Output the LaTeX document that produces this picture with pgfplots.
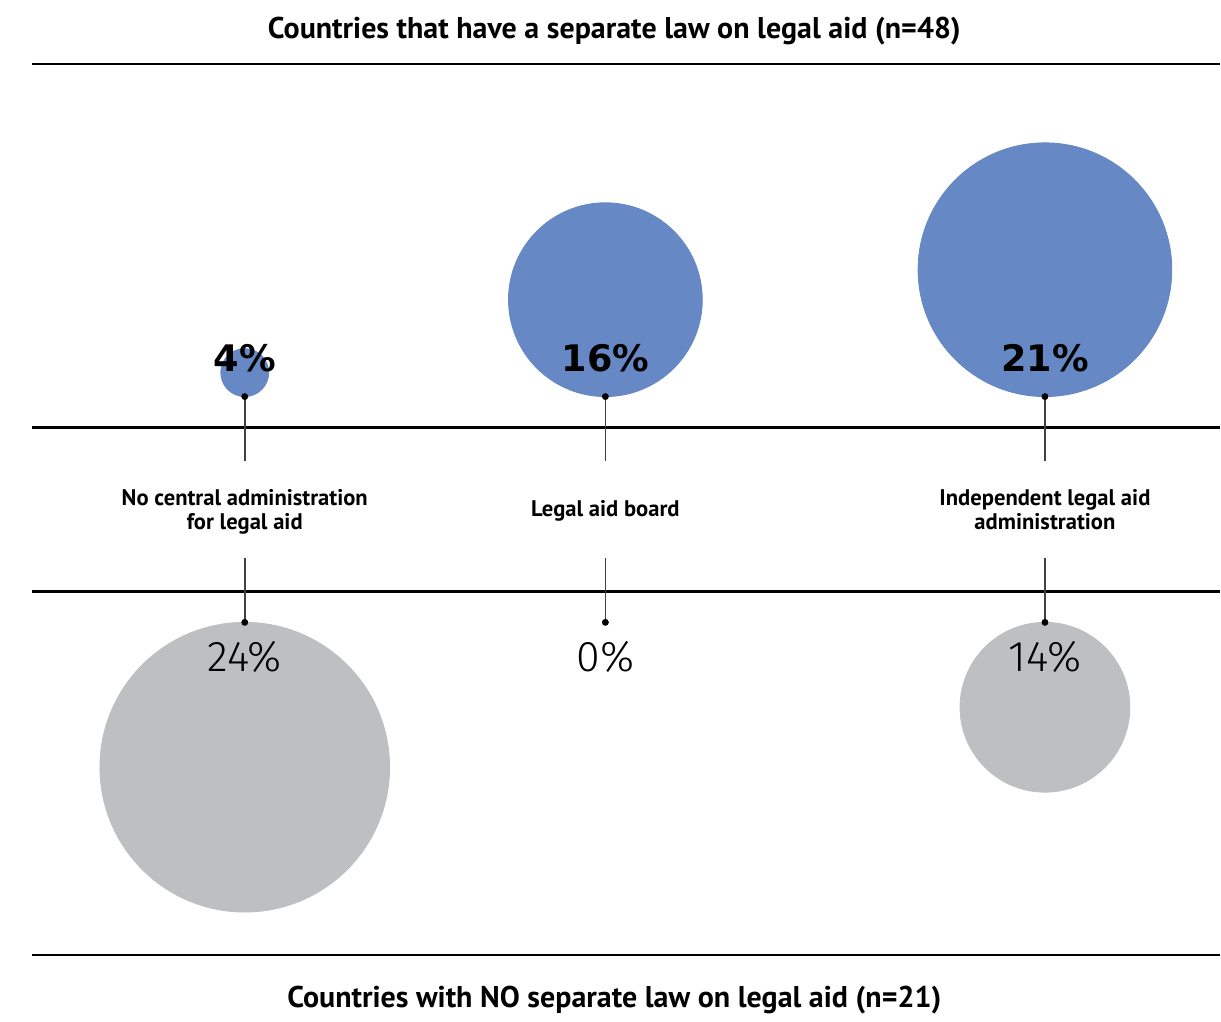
\documentclass[border=0pt]{standalone}
\usepackage{fontspec}
\usepackage{pgfplots}
\pgfplotsset{compat=1.18}
\setmainfont{PT Sans}
\newfontfamily\pctfont{DejaVu Sans}
\newfontfamily\lightfont{Fira Sans Light}
\definecolor{bubbleblue}{RGB}{102,136,196}
\definecolor{bubblegray}{RGB}{190,191,193}

% bubble centres and radii in picture units (1 unit = 0.5pt)
\pgfplotstableread{
x y r
245 373 24
606 300 97
1046 270 127
}\withlaw
\pgfplotstableread{
x y r
245 768 145
1046 708 85
}\withoutlaw

\begin{document}
\begin{tikzpicture}
\begin{axis}[
    width=610.5pt, height=507.5pt, scale only axis,
    xmin=0, xmax=1221, ymin=0, ymax=1015,
    y dir=reverse, hide axis, clip=false, set layers,
]
\addplot[draw=none] coordinates {(0,0) (1221,1015)};

% rules
\addplot[black, line width=1.25pt, unbounded coords=jump] coordinates {
    (32,64) (1221,64) (nan,nan)
    (32,428) (1221,428) (nan,nan)
    (32,592) (1221,592) (nan,nan)
    (32,956) (1221,956)
};

% bubbles
\addplot[scatter, only marks, mark=*,
    scatter/use mapped color={draw=bubbleblue, fill=bubbleblue},
    visualization depends on={\thisrow{r}*0.5 \as \rad},
    scatter/@pre marker code/.append style={/tikz/mark size=\rad},
] table[x=x, y=y] {\withlaw};
\addplot[scatter, only marks, mark=*,
    scatter/use mapped color={draw=bubblegray, fill=bubblegray},
    visualization depends on={\thisrow{r}*0.5 \as \rad},
    scatter/@pre marker code/.append style={/tikz/mark size=\rad},
] table[x=x, y=y] {\withoutlaw};

% connectors
\addplot[black!75, line width=0.75pt, unbounded coords=jump] coordinates {
    (245,397) (245,461) (nan,nan)
    (606,397) (606,461) (nan,nan)
    (1046,397) (1046,461) (nan,nan)
    (245,559) (245,623) (nan,nan)
    (606,559) (606,623) (nan,nan)
    (1046,559) (1046,623)
};
\addplot[only marks, mark=*, mark size=1.5pt, black] coordinates {
    (245,397) (606,397) (1046,397) (245,623) (606,623) (1046,623)
};

\begin{pgfonlayer}{axis foreground}
% titles
\node[anchor=base] at (axis cs:615,39)
    {\fontsize{15}{18}\selectfont\bfseries Countries that have a separate law on legal aid (n=48)};
\node[anchor=base] at (axis cs:615,1009)
    {\fontsize{15}{18}\selectfont\bfseries Countries with NO separate law on legal aid (n=21)};

% category labels
\node[anchor=base, align=center, font=\fontsize{11.3}{12}\selectfont\bfseries] at (axis cs:245,530)
    {No central administration\\for legal aid};
\node[anchor=base, font=\fontsize{11.3}{12}\selectfont\bfseries] at (axis cs:606,517) {Legal aid board};
\node[anchor=base, align=center, font=\fontsize{11.3}{12}\selectfont\bfseries] at (axis cs:1046,530)
    {Independent legal aid\\administration};

% percentages
\node[anchor=base, font=\pctfont\fontsize{18.3}{22}\selectfont\bfseries] at (axis cs:245,372) {4\%};
\node[anchor=base, font=\pctfont\fontsize{18.3}{22}\selectfont\bfseries] at (axis cs:606,372) {16\%};
\node[anchor=base, font=\pctfont\fontsize{18.3}{22}\selectfont\bfseries] at (axis cs:1046,372) {21\%};
\node[anchor=base, font=\lightfont\fontsize{21.5}{24}\selectfont] at (axis cs:245,672) {24\%};
\node[anchor=base, font=\lightfont\fontsize{21.5}{24}\selectfont] at (axis cs:606,672) {0\%};
\node[anchor=base, font=\lightfont\fontsize{21.5}{24}\selectfont] at (axis cs:1046,672) {14\%};
\end{pgfonlayer}
\end{axis}
\end{tikzpicture}
\end{document}
